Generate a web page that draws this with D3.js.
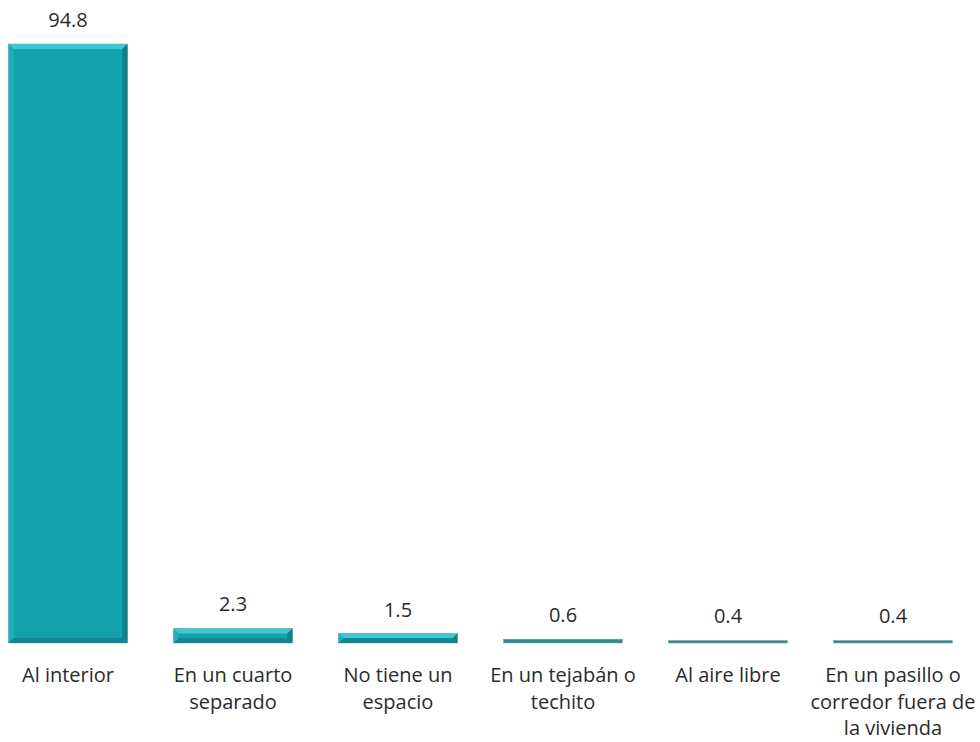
<!DOCTYPE html>
<html>
<head>
<meta charset="utf-8">
<script src="https://cdn.jsdelivr.net/npm/d3@7"></script>
<style>
  body { margin: 0; background: #fff; }
  text { font-family: "Open Sans", "Noto Sans", sans-serif; fill: #2b2b2b; }
</style>
</head>
<body>
<div id="chart"></div>
<script>
// categories and values
var categories = ["Al interior", "En un cuarto separado", "No tiene un espacio",
                  "En un tejabán o techito", "Al aire libre",
                  "En un pasillo o corredor fuera de la vivienda"];
var values = [94.8, 2.3, 1.5, 0.6, 0.4, 0.4];

var width = 980, height = 742;
var baseline = 643;

var svg = d3.select("#chart")
  .append("svg")
  .attr("width", width)
  .attr("height", height);

var x = d3.scaleBand()
  .domain(categories)
  .range([-14.5, 975.5])
  .paddingInner(0.28)
  .paddingOuter(0.14);

var y = d3.scaleLinear()
  .domain([0, 94.8])
  .range([baseline, 44]);

var data = categories.map(function (c, i) { return {cat: c, v: values[i]}; });

var bars = svg.append("g").selectAll("g.bar")
  .data(data)
  .enter()
  .append("g")
  .attr("class", "bar");

// base body (very thin bars just show as a darker strip)
bars.append("rect")
  .attr("x", function (d) { return x(d.cat); })
  .attr("y", function (d) { return y(d.v); })
  .attr("width", x.bandwidth())
  .attr("height", function (d) { return Math.max(2.5, baseline - y(d.v)); })
  .attr("fill", function (d) { return baseline - y(d.v) < 5 ? "#2a8d94" : "#14a3ad"; })
  .attr("stroke", "#8c9ea0")
  .attr("stroke-width", 0.6);

// bevel faces
function bevel(d, side) {
  var x0 = x(d.cat), x1 = x0 + x.bandwidth();
  var y0 = y(d.v), y1 = baseline;
  var b = Math.min(5, (y1 - y0) / 2);
  if (side == "top") return [[x0, y0], [x1, y0], [x1 - b, y0 + b], [x0 + b, y0 + b]];
  if (side == "right") return [[x1, y0], [x1, y1], [x1 - b, y1 - b], [x1 - b, y0 + b]];
  if (side == "bottom") return [[x0, y1], [x1, y1], [x1 - b, y1 - b], [x0 + b, y1 - b]];
  return [[x0, y0], [x0, y1], [x0 + b, y1 - b], [x0 + b, y0 + b]];
}
var faces = [["top", "#3cc9d3"], ["right", "#0e8089"], ["bottom", "#10868f"], ["left", "#1fb0ba"]];
faces.forEach(function (f) {
  bars.filter(function (d) { return baseline - y(d.v) >= 5; })
    .append("path")
    .attr("d", function (d) { return d3.line()(bevel(d, f[0])) + "Z"; })
    .attr("fill", f[1]);
});

// value labels
bars.append("text")
  .attr("x", function (d) { return x(d.cat) + x.bandwidth() / 2; })
  .attr("y", function (d) { return y(d.v) - 17; })
  .attr("text-anchor", "middle")
  .style("font-size", "20px")
  .text(function (d) { return d.v.toFixed(1); });

// category labels, wrapped
var labels = svg.append("g").selectAll("text.cat")
  .data(categories)
  .enter()
  .append("text")
  .attr("class", "cat")
  .attr("text-anchor", "middle")
  .style("font-size", "20px")
  .attr("x", function (d) { return x(d) + x.bandwidth() / 2; })
  .attr("y", 682);

labels.each(function (d) {
  var el = d3.select(this), cx = x(d) + x.bandwidth() / 2;
  var words = d.split(" "), line = [];
  var tspan = el.append("tspan").attr("x", cx).attr("dy", 0);
  words.forEach(function (w) {
    line.push(w);
    tspan.text(line.join(" "));
    if (tspan.node().getComputedTextLength() > 172 && line.length > 1) {
      line.pop();
      tspan.text(line.join(" "));
      line = [w];
      tspan = el.append("tspan").attr("x", cx).attr("dy", 26.5).text(w);
    }
  });
});
</script>
</body>
</html>
